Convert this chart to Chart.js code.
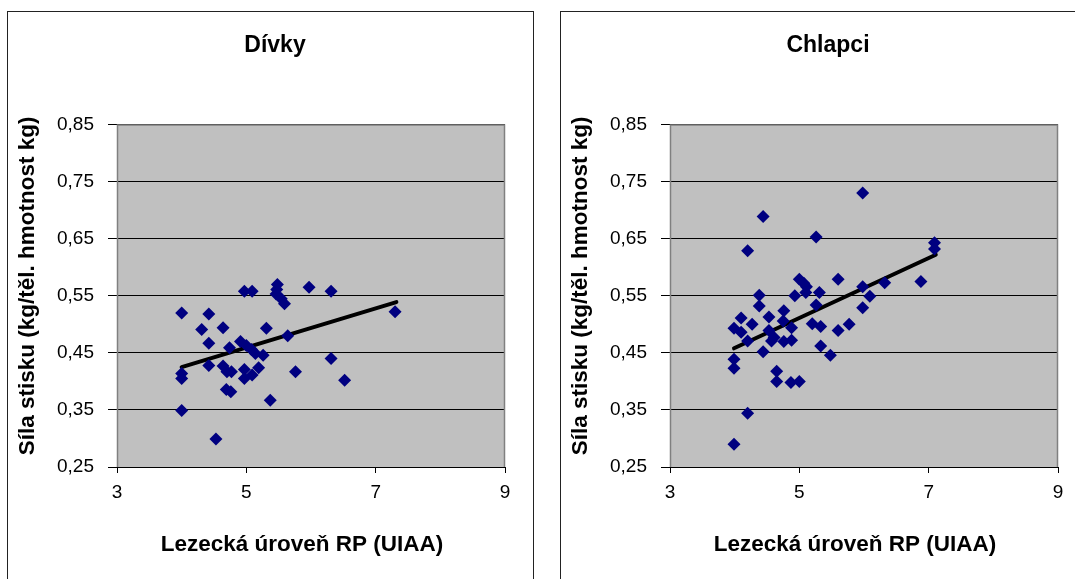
<!DOCTYPE html>
<html>
<head>
<meta charset="utf-8">
<script src="https://cdn.jsdelivr.net/npm/chart.js@4/dist/chart.umd.min.js"></script>
<style>
  html, body { margin: 0; padding: 0; background: #fff; overflow: hidden; }
  body { width: 1075px; height: 579px; position: relative; }
  .panel { position: absolute; top: 11px; height: 600px; border: 1px solid #222; background: #fff; }
  .panel canvas { position: absolute; left: 0; top: 0; }
</style>
</head>
<body>
<div class="panel" style="left:7px; width:525px;"><canvas id="divky" width="525" height="567"></canvas></div>
<div class="panel" style="left:560px; width:540px;"><canvas id="chlapci" width="525" height="567"></canvas></div>
<script>
// dívky: lezecká úroveň RP vs. síla stisku
const girlsLevel = [4.0, 4.0, 4.0, 4.0, 4.42, 4.31, 4.42, 4.42, 4.64, 4.74, 4.64, 4.70, 4.77, 4.69,
  4.76, 4.53, 4.97, 5.09, 4.91, 5.0, 5.08, 5.14, 5.26, 4.97, 5.09, 4.97, 5.19, 5.31, 5.37, 5.48,
  5.47, 5.46, 5.54, 5.59, 5.64, 5.76, 5.97, 6.31, 6.31, 6.52, 7.30];
const girlsGrip = [0.520, 0.414, 0.405, 0.349, 0.518, 0.491, 0.467, 0.428, 0.494, 0.459, 0.427, 0.417, 0.417, 0.386,
  0.382, 0.299, 0.558, 0.558, 0.470, 0.463, 0.456, 0.449, 0.446, 0.421, 0.411, 0.405, 0.424, 0.493, 0.367, 0.570,
  0.561, 0.553, 0.545, 0.536, 0.480, 0.417, 0.565, 0.558, 0.440, 0.402, 0.522];
const girlsTrendX = [4.0, 7.32];
const girlsTrendY = [0.425, 0.539];

// chlapci
const boysLevel = [3.99, 4.20, 3.99, 3.99, 3.99, 4.10, 4.10, 4.20, 4.27, 4.20, 4.44, 4.38, 4.38, 4.44, 4.53,
  4.53, 4.57, 4.61, 4.65, 4.65, 4.76, 4.75, 4.76, 4.88, 4.88, 4.87, 5.0, 4.93, 5.0, 5.07, 5.11, 5.10,
  5.26, 5.26, 5.31, 5.20, 5.33, 5.33, 5.48, 5.60, 5.60, 5.77, 5.98, 5.98, 5.98, 6.09, 6.32, 6.88, 7.09, 7.09];
const boysGrip = [0.290, 0.344, 0.439, 0.423, 0.493, 0.511, 0.486, 0.471, 0.500, 0.629, 0.689, 0.551, 0.532, 0.452, 0.513,
  0.489, 0.471, 0.477, 0.418, 0.400, 0.524, 0.506, 0.470, 0.494, 0.472, 0.398, 0.400, 0.550, 0.579, 0.572, 0.566, 0.556,
  0.653, 0.534, 0.556, 0.501, 0.496, 0.462, 0.446, 0.579, 0.489, 0.500, 0.730, 0.566, 0.529, 0.549, 0.573, 0.575, 0.643, 0.632];
const boysTrendX = [3.99, 7.11];
const boysTrendY = [0.458, 0.622];

const xTicks = [3, 5, 7, 9];
const yTicks = [0.25, 0.35, 0.45, 0.55, 0.65, 0.75, 0.85];

const FONT = "'Liberation Sans', Arial, sans-serif";

// šedé pozadí a rámeček plochy grafu
const plotFrame = {
  id: 'plotFrame',
  beforeDraw(chart) {
    const { ctx, chartArea: a } = chart;
    ctx.save();
    ctx.fillStyle = '#c0c0c0';
    ctx.fillRect(a.left, a.top, a.right - a.left, a.bottom - a.top);
    ctx.restore();
  },
  beforeDatasetsDraw(chart) {
    const { ctx, chartArea: a } = chart;
    ctx.save();
    ctx.strokeStyle = '#808080';
    ctx.lineWidth = 1.5;
    ctx.beginPath();
    ctx.moveTo(a.left + 0.5, a.bottom);
    ctx.lineTo(a.left + 0.5, a.top + 0.5);
    ctx.lineTo(a.right - 0.5, a.top + 0.5);
    ctx.lineTo(a.right - 0.5, a.bottom);
    ctx.stroke();
    ctx.restore();
  }
};

// posun nadpisů mimo střed plochy (jako v Excelu)
const textShift = {
  id: 'textShift',
  afterLayout(chart, args, opts) {
    const t = chart.titleBlock;
    if (t) { t.left += opts.title; t.right += opts.title; }
    chart.scales.x.left += 2 * opts.xTitle;
    chart.scales.y.top += 2 * opts.yTitle;
  }
};

function points(xs, ys) {
  return xs.map((x, i) => ({ x: x, y: ys[i] }));
}

function makeChart(id, title, xs, ys, tx, ty) {
  return new Chart(document.getElementById(id), {
    type: 'scatter',
    data: {
      datasets: [
        {
          data: points(xs, ys),
          pointStyle: 'rectRot',
          pointRadius: 6.5,
          pointBorderWidth: 0,
          backgroundColor: '#000080',
          borderColor: '#000080'
        },
        {
          type: 'line',
          data: points(tx, ty),
          borderColor: '#000',
          borderWidth: 4,
          borderCapStyle: 'round',
          pointRadius: 0,
          fill: false
        }
      ]
    },
    options: {
      responsive: false,
      animation: false,
      devicePixelRatio: 1,
      layout: { padding: { left: 0, right: 28, top: 0, bottom: 0 } },
      plugins: {
        legend: { display: false },
        tooltip: { enabled: false },
        title: {
          display: true,
          text: title,
          color: '#000',
          font: { family: FONT, size: 23, weight: 'bold' },
          padding: { top: 20, bottom: 65 }
        },
        textShift: { title: 18.5, xTitle: -9, yTitle: -10 }
      },
      scales: {
        x: {
          type: 'linear',
          min: 3,
          max: 9,
          afterFit: (s) => { s.height = 112; },
          afterBuildTicks: (s) => { s.ticks = xTicks.map(v => ({ value: v })); },
          grid: { drawOnChartArea: false, drawTicks: true, tickLength: 6, tickColor: '#000' },
          border: { display: false },
          ticks: { color: '#000', font: { family: FONT, size: 19 }, padding: 8, maxRotation: 0 },
          title: {
            display: true,
            text: 'Lezecká úroveň RP (UIAA)',
            color: '#000',
            font: { family: FONT, size: 22.5, weight: 'bold' },
            padding: { top: 0, bottom: 21 }
          }
        },
        y: {
          type: 'linear',
          min: 0.25,
          max: 0.85,
          afterFit: (s) => { s.width = 109; },
          afterBuildTicks: (s) => { s.ticks = yTicks.map(v => ({ value: v })); },
          grid: { color: '#000', lineWidth: 1, drawTicks: true, tickLength: 9, tickColor: '#000' },
          border: { display: false },
          ticks: {
            color: '#000',
            font: { family: FONT, size: 19 },
            padding: 14,
            callback: (v) => v.toFixed(2).replace('.', ',')
          },
          title: {
            display: true,
            text: 'Síla stisku (kg/těl. hmotnost kg)',
            color: '#000',
            font: { family: FONT, size: 22.5, weight: 'bold' },
            padding: { top: 6, bottom: 0 }
          }
        }
      }
    },
    plugins: [plotFrame, textShift]
  });
}

makeChart('divky', 'Dívky', girlsLevel, girlsGrip, girlsTrendX, girlsTrendY);
makeChart('chlapci', 'Chlapci', boysLevel, boysGrip, boysTrendX, boysTrendY);
</script>
</body>
</html>
